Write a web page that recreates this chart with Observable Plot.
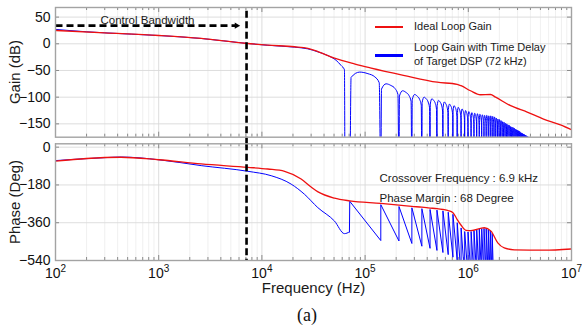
<!DOCTYPE html>
<html>
<head>
<meta charset="utf-8">
<script src="https://cdn.jsdelivr.net/npm/d3@7"></script>
<script src="https://cdn.jsdelivr.net/npm/@observablehq/plot@0.6"></script>
<style>
  html,body{margin:0;padding:0;background:#fff;}
  #chart{position:relative;width:582px;height:334px;overflow:hidden;background:#fff;font-family:"Liberation Sans",Arial,sans-serif;color:#111;}
  #chart svg{position:absolute;left:0;}
  .sw{position:absolute;left:375px;width:28px;}
  .lg{position:absolute;left:414px;font-size:11px;line-height:14.4px;white-space:nowrap;color:#1a1a1a;}
  .ylab{position:absolute;left:-45px;width:120px;height:18px;line-height:18px;text-align:center;font-size:15px;color:#1a1a1a;transform:rotate(-90deg);white-space:nowrap;}
  #cap{position:absolute;left:277px;width:60px;top:304px;text-align:center;font-family:"Liberation Serif","Times New Roman",serif;font-size:18px;line-height:22px;color:#111;}
</style>
</head>
<body>
<div id="chart"></div>
<script>
// ---------------- data ----------------
const decades = [1e2, 1e3, 1e4, 1e5, 1e6, 1e7];
const minorMultipliers = [2, 3, 4, 5, 6, 7, 8, 9];
const gainTicks = [50, 0, -50, -100, -150];
const phaseTicks = [0, -180, -360, -540];

// Ideal loop gain (red)
const redGainHz = [100, 300, 1000, 2580, 6900, 11400, 20700, 27900, 34800, 50500, 80000, 112000, 235000, 500000, 780000, 850000, 1050000, 1310000, 1640000, 1840000, 2570000, 3720000, 5360000, 7820000, 10000000];
const redGainDb = [25, 20.5, 15.5, 10, 1, -2.5, -5.5, -8.5, -14.5, -27, -38, -45, -59, -72, -76, -78.5, -88, -95.5, -95, -100, -116, -128, -141, -152, -161];

// Loop gain with DSP delay (blue) up to the first notch
const blueGainHz = [100, 200, 300, 1000, 2580, 6900, 11400, 20700, 27900, 34800, 43500, 52400, 58600, 63100, 63900];
const blueGainDb = [27, 22.5, 20.5, 15.5, 10, 1, -2.8, -6.3, -9.5, -15, -22, -31, -40.7, -48.8, -260];

// notch spacing (sampling of target DSP) and the peak of each lobe between notches
const notchSpacingHz = 71000;
const lobePeakDb = [-53, -75, -88, -95, -100, -103, -106, -109, -113, -116, -119, -122, -125, -127, -129, -130, -131, -132, -133, -134, -134, -135, -135, -136,
  -137, -139, -141, -142, -144, -146, -147, -149, -150, -152, -153, -155, -156, -157, -158, -160, -161, -162, -163, -164, -166, -167, -168, -169, -170, -171, -172, -173, -174, -175, -176];
// lobe profile: position inside the lobe and level relative to its peak
const lobeShapeU = [0.03, 0.25, 0.5, 0.75, 0.93];
const lobeShapeDb = [-10, 0, -3, -9, -20];
const notchDb = -260;

// Phase (red, ideal)
const redPhaseHz = [100, 200, 430, 1000, 2580, 7300, 11400, 16600, 24000, 30000, 35000, 50500, 71000, 142000, 213000, 284000, 355000, 426000, 497000, 568000, 639000, 710000, 781000, 852000, 950000, 1060000, 1430000, 1660000, 1930000, 2230000, 2790000, 5440000, 10000000];
const redPhaseDeg = [-67, -54, -48, -60, -80, -96, -104, -115, -152, -190, -213, -243, -256, -268, -276, -282, -286, -290, -293, -297, -302, -312, -345, -372, -396, -398, -384, -400, -456, -480, -489, -491, -485];

// Phase (blue) before the first wrap, then saw-tooth teeth
const bluePhaseHz = [100, 300, 434, 1000, 2580, 7300, 12300, 19200, 25800, 34800, 50500, 63100, 70500];
const bluePhaseDeg = [-64, -50, -47, -60, -88, -115, -136, -176, -224, -288, -352, -412, -404];
const toothTopDeg = [-258, -274, -283, -289, -293, -297, -300, -304, -310, -320, -360, -385, -402, -404, -402, -398, -394, -390, -388, -387, -388, -392, -398, -410];
const toothBottomDeg = [-445, -447, -459, -472, -482, -492, -502, -512, -524, -540, -620, -620, -620, -620, -620, -620, -620, -620, -620, -620, -620, -620, -620, -700];

const crossoverHz = 7100;
const arrowDb = 34;
const arrowStartHz = 100;
const arrowHeadHz = 5680;

// ---------------- build tables ----------------
const minorTicks = decades.slice(0, -1).flatMap(d => minorMultipliers.map(m => m * d));
const redGain = redGainHz.map((f, i) => ({f, v: redGainDb[i]}));
const blueGain = blueGainHz.map((f, i) => ({f, v: blueGainDb[i]}));
blueGain.push({f: notchSpacingHz, v: notchDb});
lobePeakDb.forEach((pk, i) => {
  const n = i + 1;
  lobeShapeU.forEach((u, j) => blueGain.push({f: (n + u) * notchSpacingHz, v: pk + lobeShapeDb[j]}));
  blueGain.push({f: (n + 1) * notchSpacingHz, v: notchDb});
});
const redPhase = redPhaseHz.map((f, i) => ({f, v: redPhaseDeg[i]}));
const bluePhase = bluePhaseHz.map((f, i) => ({f, v: bluePhaseDeg[i]}));
const teeth = [bluePhase[bluePhase.length - 1]];
toothTopDeg.forEach((top, i) => {
  const n = i + 1;
  teeth.push({f: n * notchSpacingHz, v: top});
  teeth.push({f: (n + 1) * notchSpacingHz * 0.9995, v: toothBottomDeg[i]});
});

// ---------------- layout ----------------
const W = 582, ML = 55, MR = 11, frameW = W - ML - MR;
const font = '"Liberation Sans", Arial, sans-serif';
const gridMinor = "#ececec", gridMajor = "#d9d9d9", frameColor = "#a3a3a3", tickColor = "#8a8a8a";
const RED = "#ee1111", BLUE = "#0000ff";
const xScale = {type: "log", domain: [1e2, 1e7], axis: null};
const svgStyle = {background: "transparent", overflow: "visible", fontFamily: font, fontSize: "14px", color: "#111"};

function edgeTicks(frameH, yTicks) {
  return [
    Plot.tickX(minorTicks, {x: d => d, stroke: tickColor, insetBottom: frameH - 3}),
    Plot.tickX(decades, {x: d => d, stroke: tickColor, insetBottom: frameH - 5}),
    Plot.tickX(minorTicks, {x: d => d, stroke: tickColor, insetTop: frameH - 3}),
    Plot.tickX(decades, {x: d => d, stroke: tickColor, insetTop: frameH - 5}),
    Plot.tickY(yTicks, {y: d => d, stroke: tickColor, insetLeft: frameW - 4}),
    Plot.tickY(yTicks, {y: d => d, stroke: tickColor, insetRight: frameW - 4})
  ];
}

// ---------------- gain panel ----------------
const H1 = 144, MT1 = 7, MB1 = 7.3, frameH1 = H1 - MT1 - MB1;
const gain = Plot.plot({
  width: W, height: H1, marginLeft: ML, marginRight: MR, marginTop: MT1, marginBottom: MB1,
  style: svgStyle,
  x: xScale,
  y: {domain: [-175, 68], ticks: gainTicks, tickSize: 0, tickPadding: 5, label: null},
  marks: [
    Plot.ruleX(minorTicks, {x: d => d, stroke: gridMinor, strokeWidth: 0.8}),
    Plot.ruleX(decades, {x: d => d, stroke: gridMajor, strokeWidth: 0.9}),
    Plot.ruleY(gainTicks, {y: d => d, stroke: gridMajor, strokeWidth: 0.9}),
    ...edgeTicks(frameH1, gainTicks),
    Plot.line(blueGain, {x: "f", y: "v", stroke: BLUE, strokeWidth: 1, curve: "monotone-x", clip: true}),
    Plot.line(redGain, {x: "f", y: "v", stroke: RED, strokeWidth: 1.3, curve: "monotone-x", clip: true}),
    Plot.ruleX([crossoverHz], {x: d => d, y1: -188, y2: 68, stroke: "#000", strokeWidth: 2.6, strokeDasharray: "7,3.5"}),
    Plot.link([arrowDb], {x1: arrowStartHz, x2: arrowHeadHz, y1: d => d, y2: d => d, stroke: "#000", strokeWidth: 2.6, strokeDasharray: "7,4"}),
    Plot.dot([arrowDb], {x: arrowHeadHz, y: d => d, symbol: "triangle2", r: 3, rotate: 90, fill: "#000", stroke: "none"}),
    Plot.text(["Control Bandwidth"], {frameAnchor: "top-left", dx: 45, dy: 8.8, textAnchor: "start", fontSize: 11.5, fill: "#1a1a1a"}),
    Plot.frame({stroke: frameColor, strokeWidth: 1.4})
  ]
});
gain.style.top = "0px";

// ---------------- phase panel ----------------
const H2 = 194, MT2 = 3.3, MB2 = 74, frameH2 = H2 - MT2 - MB2;
const phase = Plot.plot({
  width: W, height: H2, marginLeft: ML, marginRight: MR, marginTop: MT2, marginBottom: MB2,
  style: svgStyle,
  x: xScale,
  y: {domain: [-540, 16], ticks: phaseTicks, tickSize: 0, tickPadding: 5, label: null},
  marks: [
    Plot.ruleX(minorTicks, {x: d => d, stroke: gridMinor, strokeWidth: 0.8}),
    Plot.ruleX(decades, {x: d => d, stroke: gridMajor, strokeWidth: 0.9}),
    Plot.ruleY(phaseTicks, {y: d => d, stroke: gridMajor, strokeWidth: 0.9}),
    ...edgeTicks(frameH2, phaseTicks),
    Plot.line(bluePhase, {x: "f", y: "v", stroke: BLUE, strokeWidth: 1, curve: "monotone-x", clip: true}),
    Plot.line(teeth, {x: "f", y: "v", stroke: BLUE, strokeWidth: 1, clip: true}),
    Plot.line(redPhase, {x: "f", y: "v", stroke: RED, strokeWidth: 1.3, curve: "monotone-x", clip: true}),
    Plot.ruleX([crossoverHz], {x: d => d, stroke: "#000", strokeWidth: 2.6, strokeDasharray: "7,3.5"}),
    Plot.text(["Crossover Frequency : 6.9 kHz"], {frameAnchor: "top-left", dx: 324, dy: 30, textAnchor: "start", fontSize: 11.5, fill: "#1a1a1a"}),
    Plot.text(["Phase Margin : 68 Degree"], {frameAnchor: "top-left", dx: 324, dy: 50, textAnchor: "start", fontSize: 11.5, fill: "#1a1a1a"}),
    Plot.text(decades, {x: d => d, frameAnchor: "bottom", dy: 17, dx: 5, text: () => "10", textAnchor: "end", fontSize: 14, fill: "#111"}),
    Plot.text(decades, {x: d => d, frameAnchor: "bottom", dy: 11, dx: 5, text: d => String(Math.round(Math.log10(d))), textAnchor: "start", fontSize: 10, fill: "#111"}),
    Plot.text(["Frequency (Hz)"], {frameAnchor: "bottom", dy: 32, fontSize: 15, fill: "#1a1a1a"}),
    Plot.frame({stroke: frameColor, strokeWidth: 1.4})
  ]
});
phase.style.top = "140px";

const chart = document.getElementById("chart");
chart.appendChild(gain);
chart.appendChild(phase);

// axis titles, legend and caption
const overlayHtml = `
  <div class="ylab" style="top:63px">Gain (dB)</div>
  <div class="ylab" style="top:192.5px">Phase (Deg)</div>
  <div class="sw" style="top:26px;height:2px;background:${RED}"></div>
  <div class="lg" style="top:19px">Ideal Loop Gain</div>
  <div class="sw" style="top:54px;height:2.5px;background:${BLUE}"></div>
  <div class="lg" style="top:39.5px">Loop Gain with Time Delay<br>of Target DSP (72 kHz)</div>
  <div id="cap">(a)</div>`;
chart.insertAdjacentHTML("beforeend", overlayHtml);
</script>
</body>
</html>
